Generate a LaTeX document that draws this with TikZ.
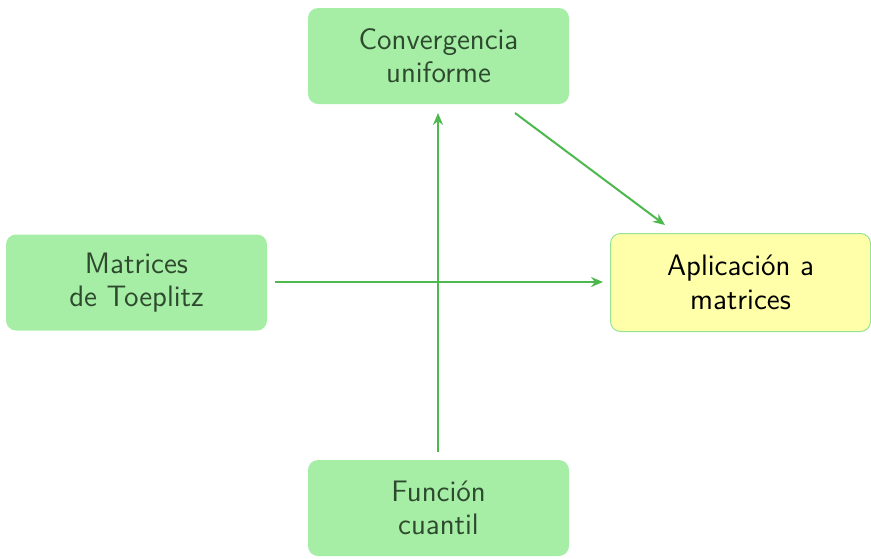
\documentclass[tikz,border=0pt]{standalone}
\usetikzlibrary{arrows.meta}
\definecolor{boxgreen}{HTML}{A6EEA6}
\definecolor{linegreen}{HTML}{4DB84D}
\definecolor{textgreen}{HTML}{2E4A2E}
\definecolor{goalyellow}{HTML}{FFFFAA}
\definecolor{goalborder}{HTML}{94E494}
\tikzset{
  topic/.style={fill=boxgreen, draw=none, rounded corners=5pt,
    minimum width=130.5pt, minimum height=48pt, align=center,
    text=textgreen, font=\sffamily\fontsize{14.8}{16.7}\selectfont},
  goal/.style={topic, fill=goalyellow, draw=goalborder, line width=0.5pt,
    text=black, minimum width=130pt, minimum height=49pt},
  link/.style={draw=linegreen, line width=1pt, -{Stealth[length=6pt,width=5pt]}}
}
\begin{document}
\begin{tikzpicture}[x=0.5pt,y=-0.5pt]
  \useasboundingbox (0,0) rectangle (871,558);
  \node[topic] (conv) at (438.5,56) {Convergencia\\uniforme};
  \node[topic] (toep) at (136.5,282.5) {Matrices\\de Toeplitz};
  \node[goal]  (apl)  at (740.5,282.5) {Aplicación a\\matrices};
  \node[topic] (cuan) at (438.5,508) {Función\\cuantil};
  \coordinate (vtop) at (438,113);
  \coordinate (vbot) at (438,452);
  \coordinate (hl) at (275,282);
  \coordinate (hr) at (603,282);
  \coordinate (dstart) at (515,113);
  \coordinate (dend) at (665,225);
  \draw[link] (vbot) -- (vtop);
  \draw[link] (hl) -- (hr);
  \draw[link] (dstart) -- (dend);
\end{tikzpicture}
\end{document}
